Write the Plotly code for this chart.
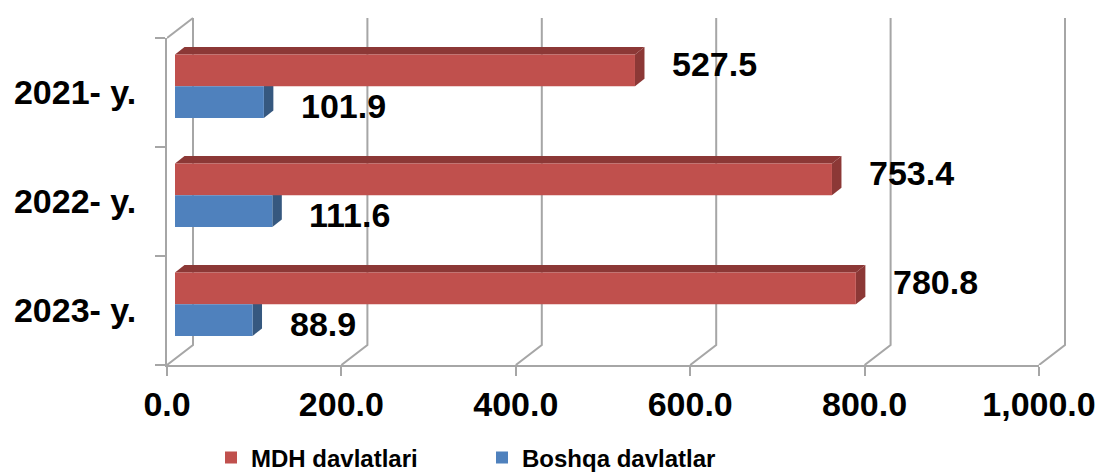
import plotly.graph_objects as go

# --- data -------------------------------------------------------------
years = ["2021- y.", "2022- y.", "2023- y."]
mdh = [527.5, 753.4, 780.8]          # MDH davlatlari
boshqa = [101.9, 111.6, 88.9]        # Boshqa davlatlar
x_ticks = [0, 200, 400, 600, 800, 1000]
series_names = ["MDH davlatlari", "Boshqa davlatlar"]

# --- styling / geometry (pixels) ----------------------------------------
W, H = 1100, 472
L, R, T, B = 167, 32, 14, 107
plot_w = W - L - R            # 901
plot_h = H - T - B            # 351
front_w = 872                 # width of the front plane (0..1000)
front_h = 327                 # height of the front plane (3 categories)
px_per_x = front_w / 1000.0
px_per_y = front_h / 3.0

wall_dx, wall_dy = 26, 20     # depth of the back wall
bar_off_x, bar_off_y = 8, 6.2 # bars sit a little behind the front plane
bar_dx, bar_dy = 9.5, 7.5     # depth of each bar

RED, RED_DARK = "#C0504D", "#8C3836"
BLUE, BLUE_DARK = "#4F81BD", "#36587F"
GRID = "#A6A6A6"
FONT = "Liberation Sans, Arial, sans-serif"

pos = list(range(len(years)))
y_lo, y_hi = -0.5, len(years) - 0.5

fig = go.Figure()

# empty traces so every subplot (front plane, walls, bars) is rendered
fig.add_trace(go.Scatter(x=[], y=[], xaxis="x", yaxis="y",
                         showlegend=False, hoverinfo="skip"))
fig.add_trace(go.Scatter(x=[], y=[], xaxis="x2", yaxis="y2",
                         showlegend=False, hoverinfo="skip"))

fig.add_trace(go.Bar(
    x=mdh, y=pos, orientation="h", name=series_names[0],
    marker=dict(color=RED, line=dict(width=0)),
    xaxis="x3", yaxis="y3", hoverinfo="x"))
fig.add_trace(go.Bar(
    x=boshqa, y=pos, orientation="h", name=series_names[1],
    marker=dict(color=BLUE, line=dict(width=0)),
    xaxis="x3", yaxis="y3", hoverinfo="x"))

shapes = []

# back wall: vertical gridlines on the back plane joined to the floor front edge
gdx = wall_dx / px_per_x
gdy = wall_dy / px_per_y
for t in x_ticks:
    shapes.append(dict(
        type="path", xref="x2", yref="y2", layer="below",
        path=f"M {t},{y_hi} L {t + gdx},{y_hi - gdy} L {t + gdx},{y_lo - gdy}",
        line=dict(color=GRID, width=2)))
# top edge of the left wall
shapes.append(dict(
    type="line", xref="x2", yref="y2", layer="below",
    x0=0, y0=y_lo, x1=gdx, y1=y_lo - gdy,
    line=dict(color=GRID, width=2)))

# 3D faces of the bars
bw = (1 - 0.418) / 2
ddx = bar_dx / px_per_x
ddy = bar_dy / px_per_y
for i, p in enumerate(pos):
    # MDH bar (upper half of the group)
    v = mdh[i]
    top, bot = p - bw, p
    shapes.append(dict(
        type="path", xref="x3", yref="y3", layer="below",
        path=f"M 0,{top} L {v},{top} L {v + ddx},{top - ddy} L {ddx},{top - ddy} Z",
        fillcolor=RED_DARK, line=dict(width=0)))
    shapes.append(dict(
        type="path", xref="x3", yref="y3", layer="below",
        path=f"M {v},{top} L {v},{bot} L {v + ddx},{bot - ddy} L {v + ddx},{top - ddy} Z",
        fillcolor=RED_DARK, line=dict(width=0)))
    # Boshqa bar (lower half of the group)
    v = boshqa[i]
    top, bot = p, p + bw
    shapes.append(dict(
        type="path", xref="x3", yref="y3", layer="below",
        path=f"M {v},{top} L {v},{bot} L {v + ddx},{bot - ddy} L {v + ddx},{top - ddy} Z",
        fillcolor=BLUE_DARK, line=dict(width=0)))

# value labels
annotations = []
for vals, shift in ((mdh, 22), (boshqa, -20)):
    for i, p in enumerate(pos):
        annotations.append(dict(
            x=vals[i], y=p, xref="x3", yref="y3", text=f"{vals[i]:.1f}",
            showarrow=False, xanchor="left", yanchor="middle",
            xshift=35, yshift=shift,
            font=dict(family=FONT, size=34, color="black", weight="bold")))

tick_font = dict(family=FONT, size=34, color="black", weight="bold")
hidden = dict(visible=False, showgrid=False, zeroline=False, fixedrange=True)

fig.update_layout(
    width=W, height=H,
    margin=dict(l=L, r=R, t=T, b=B, pad=0, autoexpand=False),
    paper_bgcolor="white", plot_bgcolor="rgba(0,0,0,0)",
    barmode="group", bargap=0.418, bargroupgap=0,
    showlegend=True,
    legend=dict(
        orientation="h", x=(211 - L) / plot_w, y=-(458 - (T + plot_h)) / plot_h,
        xanchor="left", yanchor="middle",
        font=dict(family=FONT, size=24, color="black", weight="bold"),
        entrywidth=226, entrywidthmode="pixels",
        bgcolor="rgba(0,0,0,0)"),
    xaxis=dict(
        domain=[0, front_w / plot_w], range=[0, 1000], anchor="y",
        tickmode="array", tickvals=x_ticks, tickformat=",.1f",
        ticks="outside", ticklen=9, tickwidth=2, tickcolor=GRID,
        showline=True, linecolor=GRID, linewidth=2,
        showgrid=False, zeroline=False, tickfont=tick_font,
        ticklabelstandoff=-1, fixedrange=True),
    yaxis=dict(
        domain=[0, front_h / plot_h], range=[y_hi, y_lo], anchor="x",
        tickmode="array", tickvals=pos, ticktext=years, ticks="",
        minor=dict(tickmode="array", tickvals=[p - 0.5 for p in pos] + [y_hi],
                   ticks="outside", ticklen=10, tickwidth=2, tickcolor=GRID,
                   showgrid=False),
        showline=True, linecolor=GRID, linewidth=2,
        showgrid=False, zeroline=False, tickfont=tick_font,
        ticklabelstandoff=22, fixedrange=True),
    # back wall plane (covers the whole plotting box)
    xaxis2=dict(anchor="y2", domain=[0, 1],
                range=[0, plot_w / px_per_x], **hidden),
    yaxis2=dict(anchor="x2", domain=[0, 1],
                range=[y_hi, y_hi - plot_h / px_per_y], **hidden),
    # bar plane, set slightly behind the front plane
    xaxis3=dict(anchor="y3",
                domain=[bar_off_x / plot_w, (bar_off_x + front_w) / plot_w],
                range=[0, 1000], **hidden),
    yaxis3=dict(anchor="x3",
                domain=[bar_off_y / plot_h, (bar_off_y + front_h) / plot_h],
                range=[y_hi, y_lo], **hidden),
    shapes=shapes,
    annotations=annotations,
)

fig.write_html("out.html")
